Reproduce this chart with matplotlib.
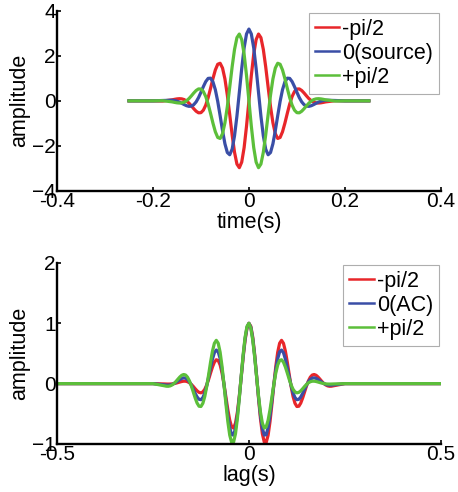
import matplotlib
matplotlib.use("Agg")
import matplotlib.pyplot as plt

# values
time_s = [-0.25, -0.20, -0.18,
          -0.160, -0.155, -0.150, -0.145, -0.140, -0.135, -0.130, -0.125, -0.120, -0.115,
          -0.110, -0.105, -0.100, -0.095, -0.090, -0.085, -0.080, -0.075, -0.070, -0.065,
          -0.060, -0.055, -0.050, -0.045, -0.040, -0.035, -0.030, -0.025, -0.020, -0.015,
          -0.010, -0.005, 0.000, 0.005, 0.010, 0.015, 0.020, 0.025, 0.030, 0.035,
          0.040, 0.045, 0.050, 0.055, 0.060, 0.065, 0.070, 0.075, 0.080, 0.085,
          0.090, 0.095, 0.100, 0.105, 0.110, 0.115, 0.120, 0.125, 0.130, 0.135,
          0.140, 0.145, 0.150, 0.155, 0.160,
          0.18, 0.20, 0.25]

src_minus = [0.0, 0.0, -0.008,
             0.045, 0.068, 0.087, 0.097, 0.089, 0.057, -0.007, -0.101, -0.220, -0.348,
             -0.461, -0.531, -0.524, -0.415, -0.191, 0.142, 0.554, 0.989, 1.374, 1.626,
             1.671, 1.457, 0.972, 0.253, -0.615, -1.509, -2.286, -2.808, -2.969, -2.720,
             -2.076, -1.123, 0.0, 1.123, 2.076, 2.720, 2.969, 2.808, 2.286, 1.509,
             0.615, -0.253, -0.972, -1.457, -1.671, -1.626, -1.374, -0.989, -0.554, -0.142,
             0.191, 0.415, 0.524, 0.531, 0.461, 0.348, 0.220, 0.101, 0.007, -0.057,
             -0.089, -0.097, -0.087, -0.068, -0.045,
             0.008, 0.0, 0.0]

src_zero = [0.0, 0.0, 0.016,
            0.029, 0.014, -0.014, -0.055, -0.108, -0.165, -0.215, -0.244, -0.234, -0.170,
            -0.044, 0.145, 0.381, 0.632, 0.856, 0.998, 1.008, 0.845, 0.495, -0.026,
            -0.662, -1.325, -1.908, -2.296, -2.394, -2.147, -1.553, -0.674, 0.375, 1.440,
            2.355, 2.972, 3.190, 2.972, 2.355, 1.440, 0.375, -0.674, -1.553, -2.147,
            -2.394, -2.296, -1.908, -1.325, -0.662, -0.026, 0.495, 0.845, 1.008, 0.998,
            0.856, 0.632, 0.381, 0.145, -0.044, -0.170, -0.234, -0.244, -0.215, -0.165,
            -0.108, -0.055, -0.014, 0.014, 0.029,
            0.016, 0.0, 0.0]

src_plus = [0.0, 0.0, 0.008,
            -0.045, -0.068, -0.087, -0.097, -0.089, -0.057, 0.007, 0.101, 0.220, 0.348,
            0.461, 0.531, 0.524, 0.415, 0.191, -0.142, -0.554, -0.989, -1.374, -1.626,
            -1.671, -1.457, -0.972, -0.253, 0.615, 1.509, 2.286, 2.808, 2.969, 2.720,
            2.076, 1.123, 0.0, -1.123, -2.076, -2.720, -2.969, -2.808, -2.286, -1.509,
            -0.615, 0.253, 0.972, 1.457, 1.671, 1.626, 1.374, 0.989, 0.554, 0.142,
            -0.191, -0.415, -0.524, -0.531, -0.461, -0.348, -0.220, -0.101, -0.007, 0.057,
            0.089, 0.097, 0.087, 0.068, 0.045,
            -0.008, 0.0, 0.0]

lag_s = [-0.50, -0.30, -0.25,
         -0.220, -0.215, -0.210, -0.205, -0.200, -0.195, -0.190, -0.185, -0.180, -0.175,
         -0.170, -0.165, -0.160, -0.155, -0.150, -0.145, -0.140, -0.135, -0.130, -0.125,
         -0.120, -0.115, -0.110, -0.105, -0.100, -0.095, -0.090, -0.085, -0.080, -0.075,
         -0.070, -0.065, -0.060, -0.055, -0.050, -0.045, -0.040, -0.035, -0.030, -0.025,
         -0.020, -0.015, -0.010, -0.005, 0.000, 0.005, 0.010, 0.015, 0.020, 0.025,
         0.030, 0.035, 0.040, 0.045, 0.050, 0.055, 0.060, 0.065, 0.070, 0.075,
         0.080, 0.085, 0.090, 0.095, 0.100, 0.105, 0.110, 0.115, 0.120, 0.125,
         0.130, 0.135, 0.140, 0.145, 0.150, 0.155, 0.160, 0.165, 0.170, 0.175,
         0.180, 0.185, 0.190, 0.195, 0.200, 0.205, 0.210, 0.215, 0.220,
         0.25, 0.30, 0.50]

corr_minus = [0.0, 0.0, 0.0,
              -0.0052, -0.0066, -0.0073, -0.0066, -0.0041, 0.0008, 0.0079, 0.0169, 0.0265, 0.0352,
              0.0405, 0.0401, 0.0317, 0.0141, -0.0127, -0.0470, -0.0846, -0.1197, -0.1450, -0.1528,
              -0.1369, -0.0934, -0.0224, 0.0705, 0.1748, 0.2756, 0.3551, 0.3957, 0.3830, 0.3090,
              0.1747, -0.0087, -0.2199, -0.4299, -0.6059, -0.7164, -0.7366, -0.6537, -0.4698, -0.2032,
              0.1131, 0.4362, 0.7189, 0.9177, 1.0, 0.9495, 0.7695, 0.4830, 0.1297, -0.2410,
              -0.5766, -0.8303, -0.9686, -0.9752, -0.8541, -0.6277, -0.3327, -0.0137, 0.2837, 0.5204,
              0.6692, 0.7173, 0.6681, 0.5386, 0.3550, 0.1487, -0.0492, -0.2132, -0.3257, -0.3788,
              -0.3746, -0.3229, -0.2384, -0.1384, -0.0393, 0.0457, 0.1075, 0.1425, 0.1513, 0.1384,
              0.1103, 0.0741, 0.0367, 0.0038, -0.0213, -0.0372, -0.0439, -0.0428, -0.0362,
              0.0, 0.0, 0.0]

corr_zero = [0.0, 0.0, 0.0,
             -0.0207, -0.0247, -0.0256, -0.0219, -0.0127, 0.0023, 0.0223, 0.0455, 0.0684, 0.0868,
             0.0959, 0.0913, 0.0696, 0.0299, -0.0260, -0.0927, -0.1615, -0.2213, -0.2598, -0.2658,
             -0.2313, -0.1533, -0.0358, 0.1096, 0.2649, 0.4071, 0.5116, 0.5565, 0.5261, 0.4147,
             0.2292, -0.0112, -0.2763, -0.5288, -0.7300, -0.8458, -0.8526, -0.7420, -0.5232, -0.2221,
             0.1214, 0.4596, 0.7442, 0.9336, 1.0, 0.9336, 0.7442, 0.4596, 0.1214, -0.2221,
             -0.5232, -0.7420, -0.8526, -0.8458, -0.7300, -0.5288, -0.2763, -0.0112, 0.2292, 0.4147,
             0.5261, 0.5565, 0.5116, 0.4071, 0.2649, 0.1096, -0.0358, -0.1533, -0.2313, -0.2658,
             -0.2598, -0.2213, -0.1615, -0.0927, -0.0260, 0.0299, 0.0696, 0.0913, 0.0959, 0.0868,
             0.0684, 0.0455, 0.0223, 0.0023, -0.0127, -0.0219, -0.0256, -0.0247, -0.0207,
             0.0, 0.0, 0.0]

corr_plus = [0.0, 0.0, 0.0,
             -0.0362, -0.0428, -0.0439, -0.0372, -0.0213, 0.0038, 0.0367, 0.0741, 0.1103, 0.1384,
             0.1513, 0.1425, 0.1075, 0.0457, -0.0393, -0.1384, -0.2384, -0.3229, -0.3746, -0.3788,
             -0.3257, -0.2132, -0.0492, 0.1487, 0.3550, 0.5386, 0.6681, 0.7173, 0.6692, 0.5204,
             0.2837, -0.0137, -0.3327, -0.6277, -0.8541, -0.9752, -0.9686, -0.8303, -0.5766, -0.2410,
             0.1297, 0.4830, 0.7695, 0.9495, 1.0, 0.9177, 0.7189, 0.4362, 0.1131, -0.2032,
             -0.4698, -0.6537, -0.7366, -0.7164, -0.6059, -0.4299, -0.2199, -0.0087, 0.1747, 0.3090,
             0.3830, 0.3957, 0.3551, 0.2756, 0.1748, 0.0705, -0.0224, -0.0934, -0.1369, -0.1528,
             -0.1450, -0.1197, -0.0846, -0.0470, -0.0127, 0.0141, 0.0317, 0.0401, 0.0405, 0.0352,
             0.0265, 0.0169, 0.0079, 0.0008, -0.0041, -0.0066, -0.0073, -0.0066, -0.0052,
             0.0, 0.0, 0.0]

top_labels = ["-pi/2", "0(source)", "+pi/2"]
bottom_labels = ["-pi/2", "0(AC)", "+pi/2"]
colors = ["#e8262a", "#3a4ea6", "#5cbf3a"]

plt.rcParams["font.family"] = ["Liberation Sans", "DejaVu Sans"]
plt.rcParams["font.size"] = 15


def style_axes(ax):
    ax.spines["top"].set_visible(False)
    ax.spines["right"].set_visible(False)
    for side in ("left", "bottom"):
        ax.spines[side].set_linewidth(1.7)
    ax.tick_params(direction="in", length=3, width=1.2, labelsize=15, pad=1)


def add_legend(ax, labels):
    leg = ax.legend(labels, loc="upper right", bbox_to_anchor=(0.995, 0.99),
                    frameon=True, fancybox=False, edgecolor="#9a9a9a",
                    handlelength=1.15, handletextpad=0.12, borderpad=0.28,
                    labelspacing=0.14, borderaxespad=0.0, fontsize=15.5)
    leg.get_frame().set_linewidth(0.8)
    for line in leg.get_lines():
        line.set_linewidth(1.8)


fig = plt.figure(figsize=(4.58, 4.92), dpi=100)

ax1 = fig.add_axes([0.1245, 0.612, 0.838, 0.366])
for ys, c in zip([src_minus, src_zero, src_plus], colors):
    ax1.plot(time_s, ys, color=c, linewidth=2.3)
ax1.set_xlim(-0.4, 0.4)
ax1.set_ylim(-4, 4)
ax1.set_xticks([-0.4, -0.2, 0, 0.2, 0.4])
ax1.set_xticklabels(["-0.4", "-0.2", "0", "0.2", "0.4"])
ax1.set_yticks([-4, -2, 0, 2, 4])
ax1.set_xlabel("time(s)", fontsize=15.5, labelpad=0.5)
ax1.set_ylabel("amplitude", fontsize=15.5, labelpad=1)
style_axes(ax1)
add_legend(ax1, top_labels)

ax2 = fig.add_axes([0.1245, 0.0976, 0.838, 0.368])
for ys, c in zip([corr_minus, corr_zero, corr_plus], colors):
    ax2.plot(lag_s, ys, color=c, linewidth=2.3)
ax2.set_xlim(-0.5, 0.5)
ax2.set_ylim(-1, 2)
ax2.set_xticks([-0.5, 0, 0.5])
ax2.set_xticklabels(["-0.5", "0", "0.5"])
ax2.set_yticks([-1, 0, 1, 2])
ax2.set_xlabel("lag(s)", fontsize=15.5, labelpad=0.5)
ax2.set_ylabel("amplitude", fontsize=15.5, labelpad=1)
style_axes(ax2)
add_legend(ax2, bottom_labels)

fig.savefig("out.png", dpi=100)
